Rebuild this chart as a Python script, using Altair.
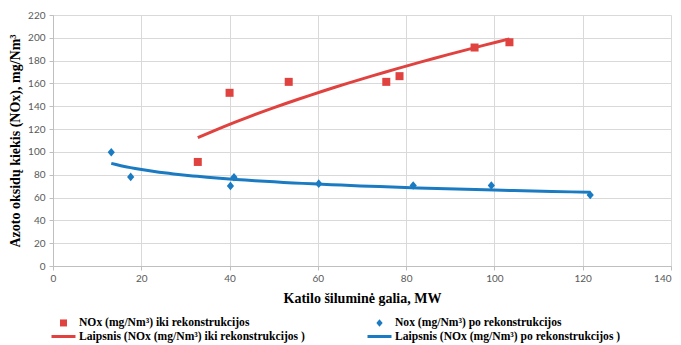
import altair as alt
import pandas as pd

# Data
before_x = [32.8, 40.0, 53.4, 75.5, 78.5, 95.5, 103.4]
before_y = [91.2, 151.8, 161.4, 161.4, 166.4, 191.5, 196.1]
after_x = [13.2, 17.6, 40.2, 41.0, 60.2, 81.6, 99.3, 121.7]
after_y = [99.7, 78.1, 70.2, 77.8, 72.2, 70.5, 70.5, 62.3]

# legend order (filled column by column): square, red fit, diamond, blue fit
labels = [
    "NOx (mg/Nm³) iki rekonstrukcijos",
    "Laipsnis (NOx (mg/Nm³) iki rekonstrukcijos )",
    "Nox (mg/Nm³) po rekonstrukcijos",
    "Laipsnis (NOx (mg/Nm³) po rekonstrukcijos )",
]
x_ticks = [0, 20, 40, 60, 80, 100, 120, 140]
y_ticks = [0, 20, 40, 60, 80, 100, 120, 140, 160, 180, 200, 220]

rows = [{"x": x, "y": y, "label": labels[0], "trend": labels[1]} for x, y in zip(before_x, before_y)]
rows += [{"x": x, "y": y, "label": labels[2], "trend": labels[3]} for x, y in zip(after_x, after_y)]
df = pd.DataFrame(rows)

RED = "#E0433F"
BLUE = "#1A7BC2"
SQ = "M-0.467,-0.467L0.467,-0.467L0.467,0.467L-0.467,0.467Z"
DM = "M0,-0.5L0.42,0L0,0.5L-0.42,0Z"
LN = "M-1.6,-0.2L1.6,-0.2L1.6,0.2L-1.6,0.2Z"

color_scale = alt.Scale(domain=labels, range=[RED, RED, BLUE, BLUE])
shape_scale = alt.Scale(domain=labels, range=[SQ, LN, DM, LN])

legend = alt.Legend(
    title=None, orient="none", legendX=3, legendY=300, columns=2,
    columnPadding=62, rowPadding=0, symbolSize=225, symbolStrokeWidth=0,
    labelOffset=8, labelFont="Liberation Serif", labelFontSize=11.6,
    labelFontWeight="bold", labelColor="black", labelLimit=0, padding=0,
    symbolOpacity=1,
)

axis_common = dict(
    labelFont="Lato", labelFontSize=10, labelColor="#595959",
    tickColor="#BFBFBF", domainColor="#BFBFBF", gridColor="#D9D9D9",
    tickSize=4, titleFont="Liberation Serif", titleFontSize=14,
    titleFontWeight="bold", titleColor="black", labelFlush=False,
)
xaxis = alt.Axis(values=x_ticks, title="Katilo šiluminė galia, MW",
                 labelPadding=3, titlePadding=8,
                 labelAlign={"condition": {"test": "datum.value >= 140", "value": "right"},
                             "value": "center"},
                 **axis_common)
yaxis = alt.Axis(values=y_ticks, title="Azoto oksidų kiekis (NOx), mg/Nm³",
                 labelPadding=4, titlePadding=5, **axis_common)

xenc = alt.X("x:Q", scale=alt.Scale(domain=[0, 140], nice=False), axis=xaxis)
yenc = alt.Y("y:Q", scale=alt.Scale(domain=[0, 220], nice=False), axis=yaxis)

base = alt.Chart(df)

lines = (
    base.transform_regression("x", "y", method="pow", groupby=["label", "trend"])
    .transform_calculate(label="datum.trend")
    .mark_line(strokeWidth=3)
    .encode(x=xenc, y=yenc,
            color=alt.Color("label:N", scale=color_scale, legend=legend))
)

points = (
    base.mark_point(filled=True, opacity=1, size=294, strokeWidth=0)
    .encode(x=xenc, y=yenc,
            color=alt.Color("label:N", scale=color_scale, legend=legend),
            shape=alt.Shape("label:N", scale=shape_scale, legend=legend))
)

chart = (
    alt.layer(lines, points)
    .properties(width=618, height=251,
                autosize=alt.AutoSizeParams(type="none"),
                padding={"left": 45, "top": 7, "right": 2, "bottom": 79})
    .configure_view(stroke=None)
)

chart.save("out.html", embed_options={"renderer": "svg", "actions": False})
